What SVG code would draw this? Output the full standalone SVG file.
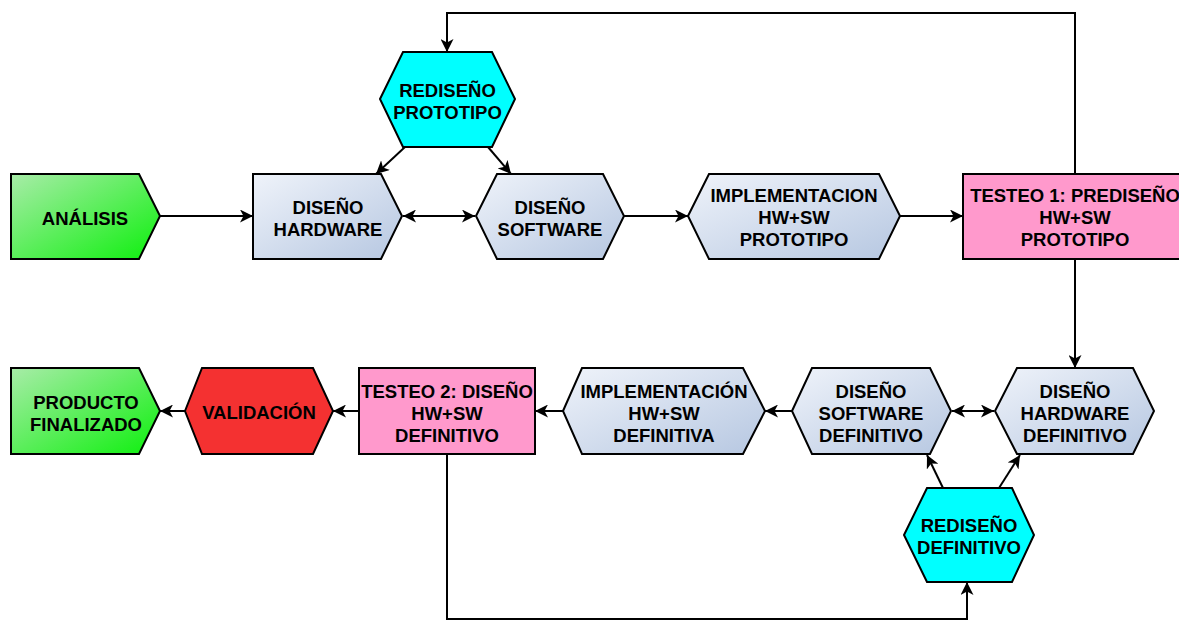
<svg xmlns="http://www.w3.org/2000/svg" width="1179" height="622" viewBox="0 0 1179 622">
<style>
.n{stroke:#000;stroke-width:2;stroke-linejoin:miter}
.blue{fill:url(#gBlue)}
.green{fill:url(#gGreen)}
.cyan{fill:#00ffff}
.pink{fill:#ff99cc}
.red{fill:#f43131}
text{font-family:"Liberation Sans",Arial,sans-serif;font-weight:bold;font-size:18.5px;fill:#000;text-anchor:middle}
.c{fill:none;stroke:#000;stroke-width:2}
.a{marker-end:url(#arr)}
.d{marker-start:url(#arr);marker-end:url(#arr)}
</style>
<defs>
<linearGradient id="gBlue" x1="0" y1="0" x2="1" y2="1">
<stop offset="0" stop-color="#eff3fa"/>
<stop offset="1" stop-color="#b6c7e1"/>
</linearGradient>
<linearGradient id="gGreen" x1="0" y1="0" x2="1" y2="1">
<stop offset="0" stop-color="#a8eca8"/>
<stop offset="1" stop-color="#0df00d"/>
</linearGradient>
<marker id="arr" viewBox="0 0 13 13" refX="13" refY="6.5" markerWidth="13" markerHeight="13" markerUnits="userSpaceOnUse" orient="auto-start-reverse">
<path d="M0,0 L13,6.5 L0,13 L3.5,6.5 z" fill="#000"/>
</marker>
</defs>
<rect width="1179" height="622" fill="#fff"/>
<g id="connectors">
<line class="c a" x1="160" y1="216" x2="253" y2="216"/>
<line class="c d" x1="403" y1="216" x2="475" y2="216"/>
<line class="c a" x1="624" y1="216" x2="688" y2="216"/>
<line class="c a" x1="900" y1="216" x2="963" y2="216"/>
<polyline class="c a" points="1075,174 1075,13 447,13 447,52"/>
<line class="c a" x1="405" y1="147" x2="376" y2="174"/>
<line class="c a" x1="488" y1="147" x2="511" y2="174"/>
<line class="c a" x1="1075" y1="259" x2="1075" y2="368"/>
<line class="c d" x1="952" y1="411" x2="994" y2="411"/>
<line class="c a" x1="792" y1="411" x2="765" y2="411"/>
<line class="c a" x1="563" y1="411" x2="535" y2="411"/>
<line class="c a" x1="359" y1="411" x2="333" y2="411"/>
<line class="c a" x1="185" y1="411" x2="160" y2="411"/>
<line class="c a" x1="943" y1="488" x2="927" y2="455"/>
<line class="c a" x1="999" y1="488" x2="1020" y2="455"/>
<polyline class="c a" points="447,454 447,619 967,619 967,582"/>
</g>
<g id="analisis">
<polygon class="n green" points="11,174 139,174 160,216 139,259 11,259"/>
<text x="85" y="224.5">ANÁLISIS</text>
</g>
<g id="disenoHardware">
<polygon class="n blue" points="253,174 381,174 402,216 381,259 253,259"/>
<text x="328" y="213.5">DISEÑO</text>
<text x="328" y="235.5">HARDWARE</text>
</g>
<g id="disenoSoftware">
<polygon class="n blue" points="476,216 497,174 603,174 624,216 603,259 497,259"/>
<text x="550" y="213.5">DISEÑO</text>
<text x="550" y="235.5">SOFTWARE</text>
</g>
<g id="implementacionPrototipo">
<polygon class="n blue" points="688,216 709,174 879,174 900,216 879,259 709,259"/>
<text x="794" y="202">IMPLEMENTACION</text>
<text x="794" y="224">HW+SW</text>
<text x="794" y="246">PROTOTIPO</text>
</g>
<g id="testeo1">
<rect class="n pink" x="963" y="174" width="224" height="85"/>
<text x="1075" y="202">TESTEO 1: PREDISEÑO</text>
<text x="1075" y="224">HW+SW</text>
<text x="1075" y="246">PROTOTIPO</text>
</g>
<g id="redisenoPrototipo">
<polygon class="n cyan" points="380,99 403,52 492,52 515,99 492,147 403,147"/>
<text x="447.5" y="96.5">REDISEÑO</text>
<text x="447.5" y="118.5">PROTOTIPO</text>
</g>
<g id="productoFinalizado">
<polygon class="n green" points="11,368 139,368 160,411 139,454 11,454"/>
<text x="86" y="408.5">PRODUCTO</text>
<text x="86" y="430.5">FINALIZADO</text>
</g>
<g id="validacion">
<polygon class="n red" points="185,411 202,368 313,368 333,411 313,454 202,454"/>
<text x="259" y="419">VALIDACIÓN</text>
</g>
<g id="testeo2">
<rect class="n pink" x="359" y="368" width="176" height="86"/>
<text x="447" y="397.5">TESTEO 2: DISEÑO</text>
<text x="447" y="419.5">HW+SW</text>
<text x="447" y="441.5">DEFINITIVO</text>
</g>
<g id="implementacionDefinitiva">
<polygon class="n blue" points="563,411 582,368 743,368 765,411 743,454 582,454"/>
<text x="664" y="397.5">IMPLEMENTACIÓN</text>
<text x="664" y="419.5">HW+SW</text>
<text x="664" y="441.5">DEFINITIVA</text>
</g>
<g id="disenoSoftwareDefinitivo">
<polygon class="n blue" points="792,411 812,368 930,368 951,411 930,454 812,454"/>
<text x="871" y="397.5">DISEÑO</text>
<text x="871" y="419.5">SOFTWARE</text>
<text x="871" y="441.5">DEFINITIVO</text>
</g>
<g id="disenoHardwareDefinitivo">
<polygon class="n blue" points="995,411 1017,368 1133,368 1154,411 1133,454 1017,454"/>
<text x="1075" y="397.5">DISEÑO</text>
<text x="1075" y="419.5">HARDWARE</text>
<text x="1075" y="441.5">DEFINITIVO</text>
</g>
<g id="redisenoDefinitivo">
<polygon class="n cyan" points="904,535 927,488 1012,488 1034,535 1012,582 927,582"/>
<text x="969" y="531.5">REDISEÑO</text>
<text x="969" y="553.5">DEFINITIVO</text>
</g>
</svg>
